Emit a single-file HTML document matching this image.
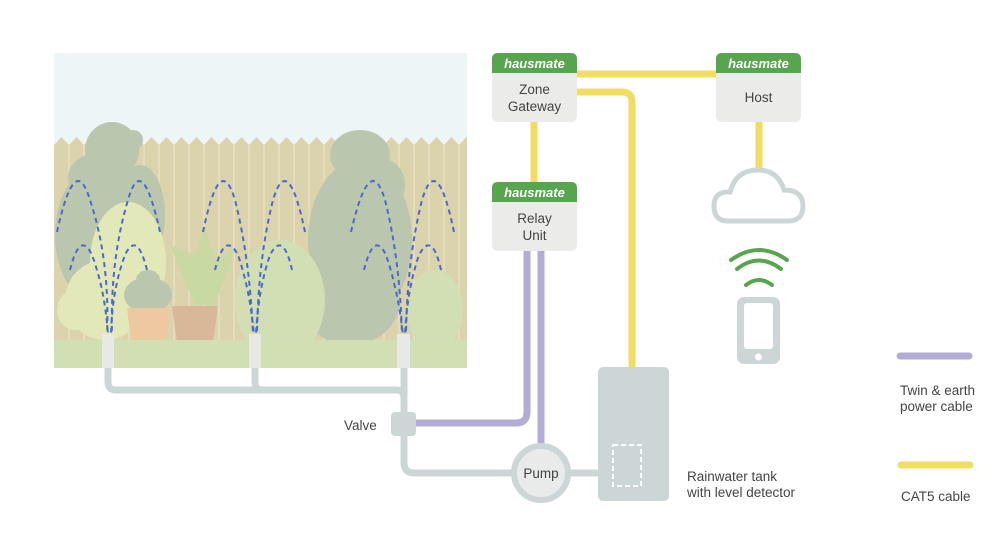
<!DOCTYPE html>
<html><head><meta charset="utf-8"><style>
html,body{margin:0;padding:0;background:#fff;width:998px;height:555px;overflow:hidden}
svg{display:block}
text{font-family:"Liberation Sans",sans-serif;fill:#444}
</style></head><body>
<svg width="998" height="555" viewBox="0 0 998 555" xmlns="http://www.w3.org/2000/svg">
<defs><clipPath id="g"><rect x="54" y="53" width="413" height="315"/></clipPath></defs>
<g clip-path="url(#g)">
<rect x="54" y="53" width="413" height="315" fill="#edf5f7"/>
<rect x="54" y="145" width="413" height="223" fill="#dbd3ab"/>
<path d="M54,145 l7.5,-8 l7.5,8 l7.5,-8 l7.5,8 l7.5,-8 l7.5,8 l7.5,-8 l7.5,8 l7.5,-8 l7.5,8 l7.5,-8 l7.5,8 l7.5,-8 l7.5,8 l7.5,-8 l7.5,8 l7.5,-8 l7.5,8 l7.5,-8 l7.5,8 l7.5,-8 l7.5,8 l7.5,-8 l7.5,8 l7.5,-8 l7.5,8 l7.5,-8 l7.5,8 l7.5,-8 l7.5,8 l7.5,-8 l7.5,8 l7.5,-8 l7.5,8 l7.5,-8 l7.5,8 l7.5,-8 l7.5,8 l7.5,-8 l7.5,8 l7.5,-8 l7.5,8 l7.5,-8 l7.5,8 l7.5,-8 l7.5,8 l7.5,-8 l7.5,8 l7.5,-8 l7.5,8 l7.5,-8 l7.5,8 l7.5,-8 l7.5,8 l7.5,-8 l7.5,8 Z" fill="#dbd3ab"/>
<g stroke="#ece6cc" stroke-width="1">
<path d="M69,145V360M84,145V360M99,145V360M114,145V360M129,145V360M144,145V360M159,145V360M174,145V360M189,145V360M204,145V360M219,145V360M234,145V360M249,145V360M264,145V360M279,145V360M294,145V360M309,145V360M324,145V360M339,145V360M354,145V360M369,145V360M384,145V360M399,145V360M414,145V360M429,145V360M444,145V360M459,145V360"/>
</g>
<g fill="#bac6ae">
<ellipse cx="112" cy="150" rx="27" ry="28"/>
<ellipse cx="133" cy="140" rx="10" ry="10"/>
<ellipse cx="98" cy="178" rx="30" ry="25"/>
<ellipse cx="100" cy="235" rx="45" ry="70"/>
<ellipse cx="140" cy="215" rx="25" ry="50"/>
<ellipse cx="360" cy="155" rx="30" ry="25"/>
<ellipse cx="385" cy="185" rx="20" ry="25"/>
<ellipse cx="360" cy="240" rx="52" ry="80"/>
<ellipse cx="350" cy="300" rx="50" ry="45"/>
</g>
<g fill="#e2e8b8">
<ellipse cx="128" cy="262" rx="38" ry="60"/>
<ellipse cx="105" cy="300" rx="40" ry="40"/>
<ellipse cx="75" cy="310" rx="18" ry="20"/>
</g>
<g fill="#d2dfb4">
<ellipse cx="280" cy="300" rx="45" ry="60"/>
<ellipse cx="435" cy="310" rx="28" ry="40"/>
</g>
<path d="M195,305 L170,245 L195,255 L205,225 L215,260 L235,250 L215,305 Z" fill="#c9d9a4"/>
<ellipse cx="148" cy="295" rx="24" ry="18" fill="#bac6ae"/>
<ellipse cx="148" cy="280" rx="12" ry="10" fill="#bac6ae"/>
<path d="M127,308 L170,308 L165,350 L132,350 Z" fill="#eec8a0"/>
<path d="M172,306 L218,306 L212,350 L178,350 Z" fill="#d9b899"/>
<rect x="54" y="340" width="413" height="28" fill="#d1dfb2"/>
<g fill="none" stroke="#4a6cc4" stroke-width="2" stroke-dasharray="5,4">
<path d="M57,232 Q75,150 90,200 Q110,260 107,335"/>
<path d="M160,232 Q142,150 128,200 Q110,260 112,335"/>
<path d="M70,270 Q80,230 92,255 Q105,290 108,335"/>
<path d="M147,270 Q137,230 125,255 Q112,290 111,335"/>
<path d="M203,232 Q220,150 235,200 Q250,260 253,335"/>
<path d="M305,232 Q288,150 273,200 Q258,260 257,335"/>
<path d="M215,270 Q225,230 238,255 Q250,290 254,335"/>
<path d="M292,270 Q283,230 270,255 Q258,290 256,335"/>
<path d="M351,232 Q370,150 385,200 Q400,260 402,335"/>
<path d="M454,232 Q437,150 422,200 Q407,260 406,335"/>
<path d="M364,270 Q374,230 386,255 Q398,290 403,335"/>
<path d="M441,270 Q432,230 419,255 Q407,290 405,335"/>
</g>
<g fill="#e8e8e6">
<rect x="102" y="334" width="12" height="34"/>
<rect x="249" y="334" width="12" height="34"/>
<rect x="397" y="334" width="13" height="34"/>
</g>
</g>
<g fill="none" stroke="#ccd6d6" stroke-width="7">
<path d="M108,368 V382 Q108,390 116,390 H396 Q404,390 404,398 V462 Q404,473 414,473 H600"/>
<path d="M255,368 V382 Q255,390 263,390"/>
<path d="M404,368 V398"/>
</g>
<g fill="none" stroke="#b3acd6" stroke-width="7">
<path d="M527,250 V412 Q527,423 516,423 H410"/>
<path d="M541,250 V446"/>
</g>
<rect x="391" y="412" width="25" height="24" rx="4" fill="#ccd6d6"/>
<circle cx="541" cy="473" r="27" fill="#e9eaea" stroke="#ccd6d6" stroke-width="6"/>
<text x="541" y="478" font-size="13.5" text-anchor="middle">Pump</text>
<text x="344" y="430" font-size="13.5">Valve</text>
<g fill="none" stroke="#f2dd63" stroke-width="7">
<path d="M577,74 H716"/>
<path d="M577,92 H622 Q632,92 632,102 V368"/>
<path d="M534,122 V182"/>
<path d="M759,122 V170"/>
</g>
<rect x="598" y="367" width="71" height="134" rx="5" fill="#ccd6d6"/>
<rect x="613" y="445" width="28" height="41" fill="none" stroke="#fff" stroke-width="2" stroke-dasharray="5,3"/>
<text x="687" y="481" font-size="13.5">Rainwater tank</text>
<text x="687" y="497" font-size="13.5">with level detector</text>
<g>
<rect x="492" y="53" width="85" height="69" rx="6" fill="#ebebea"/>
<path d="M492,73 V59 Q492,53 498,53 H571 Q577,53 577,59 V73 Z" fill="#58a54f"/>
<text x="534.5" y="68" font-size="13" font-weight="bold" font-style="italic" text-anchor="middle" style="fill:#fff">hausmate</text>
<text x="534.5" y="94" font-size="13.5" text-anchor="middle">Zone</text>
<text x="534.5" y="111" font-size="13.5" text-anchor="middle">Gateway</text>
</g>
<g>
<rect x="716" y="53" width="85" height="69" rx="6" fill="#ebebea"/>
<path d="M716,73 V59 Q716,53 722,53 H795 Q801,53 801,59 V73 Z" fill="#58a54f"/>
<text x="758.5" y="68" font-size="13" font-weight="bold" font-style="italic" text-anchor="middle" style="fill:#fff">hausmate</text>
<text x="758.5" y="102" font-size="13.5" text-anchor="middle">Host</text>
</g>
<g>
<rect x="492" y="182" width="85" height="69" rx="6" fill="#ebebea"/>
<path d="M492,202 V188 Q492,182 498,182 H571 Q577,182 577,188 V202 Z" fill="#58a54f"/>
<text x="534.5" y="197" font-size="13" font-weight="bold" font-style="italic" text-anchor="middle" style="fill:#fff">hausmate</text>
<text x="534.5" y="223" font-size="13.5" text-anchor="middle">Relay</text>
<text x="534.5" y="240" font-size="13.5" text-anchor="middle">Unit</text>
</g>
<path d="M728,221 Q714,221 714,206 Q714,191 730,192 Q736,170 758,170 Q778,170 784,190 Q803,190 803,206 Q803,221 788,221 Z" fill="none" stroke="#ccd6d6" stroke-width="5"/>
<g fill="none" stroke="#58a54f" stroke-width="4" stroke-linecap="round">
<path d="M731,260 Q759,240 787,260"/>
<path d="M737,269 Q759,252 781,269"/>
<path d="M746,285 Q759,275 772,285"/>
</g>
<rect x="737" y="297" width="43" height="67" rx="7" fill="#ccd6d6"/>
<rect x="744" y="303" width="29" height="46" rx="3" fill="#fff"/>
<circle cx="758.5" cy="357" r="3.5" fill="#fff"/>
<line x1="900" y1="356" x2="969" y2="356" stroke="#b3acd6" stroke-width="7" stroke-linecap="round"/>
<line x1="901" y1="465" x2="970" y2="465" stroke="#f2dd63" stroke-width="7" stroke-linecap="round"/>
<text x="900" y="395" font-size="13.5">Twin &amp; earth</text>
<text x="900" y="411" font-size="13.5">power cable</text>
<text x="901" y="501" font-size="13.5">CAT5 cable</text>
</svg>
</body></html>
